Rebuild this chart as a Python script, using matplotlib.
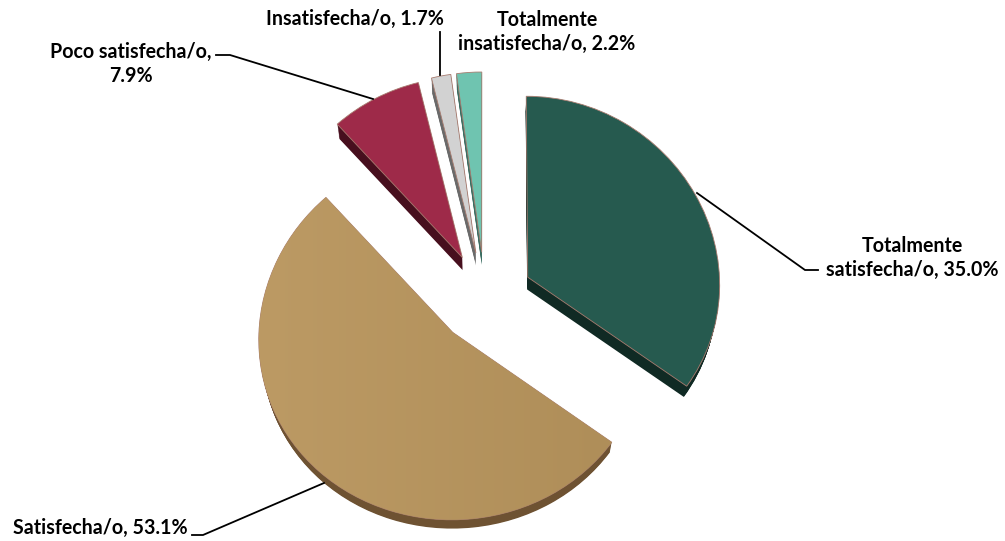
import matplotlib
matplotlib.use("Agg")
import matplotlib.pyplot as plt
import numpy as np
from matplotlib.colors import LinearSegmentedColormap
from matplotlib.transforms import Transform

labels = ["Totalmente\nsatisfecha/o, 35.0%", "Satisfecha/o, 53.1%", "Poco satisfecha/o,\n7.9%",
          "Insatisfecha/o, 1.7%", "Totalmente\ninsatisfecha/o, 2.2%"]
values = [35.0, 53.1, 7.9, 1.7, 2.2]
colors = ["#265A4F", "#B5935E", "#9E2A49", "#D2D2D2", "#6FC4B0"]
side_colors = ["#102A24", "#6E5232", "#470F1E", "#6A6A6A", "#3C6E62"]

# label centres and leader lines, in pixels of the reference
label_pos = [(912, 258), (100, 528), (131, 64), (355, 19), (547, 32)]
leaders = [
    [(697, 193), (805, 270), (818, 270)],
    [(324, 483), (203, 535), (192, 535)],
    [(373, 99), (230, 55), (216, 55)],
    [(440, 75), (440, 32)],
]

W, H = 1005, 541
EXPLODE = 0.25
DEPTH = 12


class Tilt(Transform):
    """Maps pie coordinates to pixels, with the slight perspective of the 3D pie"""
    input_dims = output_dims = 2

    def transform_non_affine(self, xy):
        x, y = np.asarray(xy).T
        return np.column_stack([485 + 192.5 * x * (1 - 0.035 * y), 298 - 184 * y + 2.5 * y ** 2])


plt.rcParams["font.family"] = ["Lato", "DejaVu Sans"]
fig = plt.figure(figsize=(W / 100, H / 100), dpi=100)
ax = fig.add_axes([0, 0, 1, 1])
tilt = Tilt() + ax.transData

# side of the slices: stack of darker pies, shrinking a bit towards the back
for d in range(DEPTH, 0, -1):
    k = 1 - 0.016 * d / DEPTH
    wedges, _ = ax.pie(values, colors=side_colors, startangle=90, counterclock=False,
                       explode=[EXPLODE * k] * len(values), radius=k, center=(0, -d / 184),
                       wedgeprops={"linewidth": 0}, frame=True)
    for w in wedges:
        w.set_transform(tilt)

# top of the slices
wedges, _ = ax.pie(values, colors=colors, startangle=90, counterclock=False,
                   explode=[EXPLODE] * len(values), center=(0, 0),
                   wedgeprops={"linewidth": 0.6, "edgecolor": "#A87C70"}, frame=True)
for w in wedges:
    w.set_transform(tilt)

# the big slice gets lighter towards its left side
tan = LinearSegmentedColormap.from_list("tan", ["#BC9A64", "#AF8E59"])
im = ax.imshow(np.linspace(0, 1, 64).reshape(1, -1), cmap=tan, extent=(255, 615, 540, 190),
               zorder=1.5, interpolation="bilinear")
im.set_clip_path(wedges[1])

for line in leaders:
    xs, ys = zip(*line)
    ax.plot(xs, ys, color="black", lw=1.3, solid_joinstyle="miter")

for text, (x, y) in zip(labels, label_pos):
    ax.text(x, y, text, ha="center", va="center", fontsize=14.1, fontweight="bold",
            color="black", linespacing=1.2)

ax.set_aspect("auto")
ax.set_xlim(0, W)
ax.set_ylim(H, 0)
ax.axis("off")

fig.savefig("out.png", dpi=100)
